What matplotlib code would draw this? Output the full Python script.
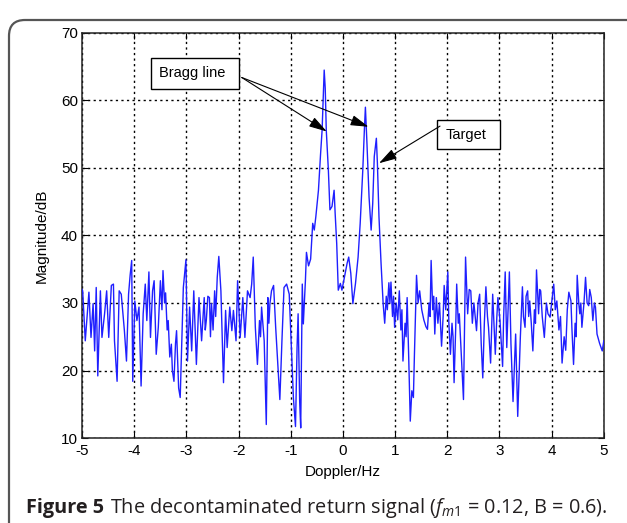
import matplotlib
matplotlib.use("Agg")
import matplotlib.pyplot as plt
from matplotlib.patches import FancyBboxPatch, Rectangle

plt.rcParams['font.family'] = ['Liberation Sans', 'DejaVu Sans']
plt.rcParams['axes.unicode_minus'] = False
plt.rcParams['mathtext.fontset'] = 'custom'
plt.rcParams['mathtext.rm'] = 'Open Sans'
plt.rcParams['mathtext.it'] = 'Open Sans:italic'

# spectrum (turning points of the trace)
doppler_hz = [
    -5.00, -4.99, -4.94, -4.87, -4.83, -4.79, -4.76, -4.73, -4.70, -4.65,
    -4.62, -4.57, -4.53, -4.49, -4.44, -4.40, -4.38, -4.33, -4.29, -4.25,
    -4.19, -4.15, -4.11, -4.08, -4.05, -4.03, -3.99, -3.95, -3.91, -3.87,
    -3.83, -3.79, -3.76, -3.72, -3.69, -3.65, -3.62, -3.58, -3.54, -3.50,
    -3.47, -3.45, -3.42, -3.40, -3.37, -3.35, -3.32, -3.29, -3.27, -3.24,
    -3.21, -3.19, -3.15, -3.12, -3.06, -3.01,
    -2.98, -2.94, -2.90, -2.86, -2.81, -2.76, -2.71, -2.66, -2.64, -2.62,
    -2.59, -2.56, -2.54, -2.52, -2.49, -2.46, -2.44, -2.41, -2.38, -2.34,
    -2.29, -2.25, -2.22, -2.17, -2.13,
    -2.10, -2.05, -2.02, -1.97, -1.92, -1.88, -1.83, -1.78, -1.75, -1.72,
    -1.68, -1.64, -1.60, -1.58, -1.56, -1.51, -1.47, -1.44, -1.42, -1.40,
    -1.37, -1.33,
    -1.29, -1.26, -1.21, -1.17, -1.13, -1.08, -1.03, -0.99, -0.95, -0.91,
    -0.88, -0.86, -0.83, -0.81, -0.78, -0.76, -0.72,
    -0.70, -0.66, -0.62, -0.58, -0.55, -0.52, -0.47, -0.43, -0.40, -0.37,
    -0.36, -0.34, -0.32, -0.28, -0.25, -0.21, -0.17, -0.15, -0.12, -0.09,
    -0.05, -0.02, 0.03, 0.08, 0.11, 0.15, 0.19, 0.24, 0.29, 0.33,
    0.38, 0.41, 0.43, 0.46, 0.50, 0.54, 0.57, 0.60, 0.64, 0.66,
    0.69, 0.73, 0.77, 0.80, 0.83, 0.85, 0.88, 0.90, 0.92, 0.95,
    0.97, 0.99, 1.02, 1.05, 1.08, 1.11, 1.13, 1.15, 1.19, 1.21,
    1.23, 1.26, 1.29, 1.32, 1.35, 1.37, 1.41, 1.44, 1.47, 1.51,
    1.55, 1.59, 1.62, 1.65, 1.67, 1.69, 1.72, 1.74, 1.76, 1.79,
    1.82, 1.85, 1.89, 1.92, 1.94, 1.97, 2.01, 2.03, 2.06, 2.09,
    2.11, 2.13, 2.16, 2.18, 2.21, 2.23, 2.27, 2.31, 2.35, 2.39,
    2.42, 2.45, 2.48, 2.51, 2.56, 2.59, 2.62, 2.65, 2.68, 2.71,
    2.74, 2.77, 2.79, 2.83, 2.87, 2.90, 2.92, 2.95, 2.97, 3.01,
    3.06, 3.08, 3.11, 3.14, 3.17, 3.19, 3.22, 3.26, 3.31, 3.35,
    3.40, 3.44, 3.46, 3.49, 3.51, 3.54, 3.56, 3.58, 3.61, 3.64,
    3.67, 3.69, 3.71, 3.75, 3.77, 3.79, 3.82, 3.86, 3.90, 3.93,
    3.97, 4.00, 4.04, 4.07, 4.10, 4.14, 4.17, 4.20, 4.24, 4.27,
    4.30, 4.33, 4.37, 4.39, 4.42, 4.45, 4.47, 4.49, 4.52, 4.54,
    4.56, 4.58, 4.62, 4.65, 4.68, 4.71, 4.73, 4.76, 4.79, 4.82,
    4.84, 4.87, 4.92, 4.97, 5.00,
]
magnitude_db = [
    32.0, 31.8, 24.4, 31.6, 24.9, 29.9, 22.9, 32.3, 19.2, 31.8,
    24.9, 28.4, 31.8, 24.9, 32.6, 32.8, 24.4, 18.4, 31.8, 31.3,
    25.9, 21.4, 31.3, 34.1, 36.3, 18.4, 30.3, 27.4, 29.4, 17.7,
    28.4, 32.8, 27.4, 34.6, 24.9, 31.8, 33.3, 22.4, 26.4, 33.3,
    29.0, 34.8, 30.0, 31.5, 26.0, 27.4, 22.0, 23.9, 20.0, 18.4,
    24.0, 25.9, 17.4, 16.0, 32.3, 36.4,
    21.4, 29.4, 22.9, 31.8, 20.9, 30.8, 24.4, 30.8, 26.0, 27.4,
    31.0, 30.8, 25.0, 29.9, 26.0, 31.8, 28.0, 33.8, 36.9, 31.8,
    18.2, 28.9, 23.4, 29.4, 25.9,
    28.9, 24.4, 33.3, 24.9, 30.8, 24.9, 31.8, 30.8, 32.8, 36.8,
    26.4, 20.9, 27.4, 25.0, 29.4, 24.4, 12.0, 30.8, 27.0, 29.9,
    31.8, 32.6,
    26.4, 22.4, 15.7, 24.4, 32.3, 32.8, 31.3, 23.4, 15.9, 11.7,
    23.4, 28.4, 15.4, 11.5, 32.8, 26.9, 33.3,
    37.5, 35.5, 36.5, 41.8, 40.8, 42.8, 46.7, 52.0, 55.6, 62.0,
    64.5, 61.8, 55.6, 49.7, 43.8, 44.3, 46.7, 43.3, 38.8, 31.9,
    32.9, 31.9, 33.9, 35.9, 36.8, 34.4, 29.9, 32.9, 36.8, 41.8,
    49.7, 55.6, 59.0, 53.6, 45.7, 40.8, 44.7, 51.7, 54.4, 50.7,
    42.8, 35.9, 29.9, 27.0, 31.0, 29.0, 33.0, 30.0, 33.1, 28.0,
    31.0, 26.4, 30.0, 27.5, 31.8, 26.0, 29.0, 21.4, 27.0, 25.0,
    30.8, 22.0, 12.5, 17.0, 16.0, 22.4, 34.1, 30.0, 31.8, 29.0,
    27.5, 26.5, 26.1, 30.0, 28.0, 36.3, 29.0, 31.0, 25.4, 30.8,
    27.0, 30.0, 23.6, 28.0, 32.6, 29.0, 34.6, 27.0, 22.4, 27.0,
    25.0, 18.2, 26.0, 32.8, 27.0, 28.4, 22.0, 15.7, 36.8, 28.4,
    32.0, 31.8, 27.0, 30.0, 25.9, 30.0, 31.3, 24.0, 18.9, 27.0,
    32.4, 28.0, 26.4, 21.1, 31.3, 26.0, 22.4, 28.0, 30.8, 27.4,
    20.6, 28.0, 34.6, 23.4, 30.0, 34.6, 24.0, 15.4, 25.4, 13.2,
    24.9, 32.4, 28.0, 26.4, 31.0, 31.8, 28.0, 30.3, 27.0, 22.9,
    29.0, 27.0, 34.9, 28.4, 32.0, 31.8, 28.0, 24.9, 30.0, 28.4,
    27.9, 30.0, 32.8, 29.0, 30.3, 26.0, 28.0, 21.1, 25.0, 23.0,
    29.0, 31.6, 30.3, 26.0, 20.9, 27.0, 25.0, 34.1, 30.0, 28.4,
    30.0, 26.4, 30.0, 33.8, 30.0, 29.6, 32.0, 30.8, 27.4, 30.0,
    29.4, 25.4, 24.0, 22.9, 24.4,
]

x_ticks = [-5, -4, -3, -2, -1, 0, 1, 2, 3, 4, 5]
y_ticks = [10, 20, 30, 40, 50, 60, 70]

fig = plt.figure(figsize=(6.27, 5.23), dpi=100)

# rounded frame running off the right and bottom edges
frame = FancyBboxPatch((0.09, -0.6), 7.0, 5.63, boxstyle="round,pad=0,rounding_size=0.16",
                       transform=fig.dpi_scale_trans, facecolor='none',
                       edgecolor='#555555', linewidth=1.6, zorder=0)
fig.patches.append(frame)

ax = fig.add_axes([0.131, 0.1625, 0.832, 0.7745])
ax.plot(doppler_hz, magnitude_db, color='#1f1fff', linewidth=1.0, zorder=3)
ax.set_xlim(-5, 5)
ax.set_ylim(10, 70)
ax.set_xticks(x_ticks)
ax.set_yticks(y_ticks)
ax.grid(True, color='black', linestyle=(0, (1.6, 2.4)), linewidth=1.0)
ax.tick_params(direction='in', top=True, right=True, length=4, labelsize=11, pad=4)
ax.tick_params(axis='y', pad=3)
for s in ax.spines.values():
    s.set_color('#222222')
    s.set_linewidth(1.1)

fig.text(0.5 * (0.131 + 0.963), 1 - 472 / 523, 'Doppler/Hz', fontsize=11,
         ha='center', va='center')
fig.text(42 / 627, 1 - 236 / 523, 'Magnitude/dB', fontsize=11,
         ha='center', va='center', rotation=90)

# annotation boxes and arrows
ax.add_patch(Rectangle((-3.68, 61.7), 1.69, 4.6, facecolor='white',
                       edgecolor='black', linewidth=1.0, zorder=5))
ax.text(-3.53, 64.0, 'Bragg line', fontsize=10.5, va='center', zorder=6)
ax.add_patch(Rectangle((1.80, 52.8), 1.21, 4.3, facecolor='white',
                       edgecolor='black', linewidth=1.0, zorder=5))
ax.text(1.97, 54.95, 'Target', fontsize=10.5, va='center', zorder=6)

arrow = dict(arrowstyle='-|>,head_length=1.1,head_width=0.32', color='black',
             linewidth=0.8, shrinkA=0, shrinkB=0)
ax.annotate('', xy=(-0.31, 55.4), xytext=(-1.94, 63.4), arrowprops=arrow, zorder=6)
ax.annotate('', xy=(0.49, 56.1), xytext=(-1.94, 63.4), arrowprops=arrow, zorder=6)
ax.annotate('', xy=(0.69, 50.7), xytext=(1.86, 56.2), arrowprops=arrow, zorder=6)

# caption: bold lead-in, then the rest
fig.canvas.draw()
renderer = fig.canvas.get_renderer()
cap_y = 1 - 513 / 523
t1 = fig.text(26 / 627, cap_y, 'Figure 5', fontsize=14.3, weight='bold',
              family='Open Sans', va='baseline', color='#231f20')
bb = t1.get_window_extent(renderer)
fig.text((bb.x1 + 6) / fig.bbox.width, cap_y,
         'The decontaminated return signal ($f_{m1}$ = 0.12, B = 0.6).',
         fontsize=14.3, family='Open Sans', va='baseline', color='#231f20')

fig.savefig('out.png', dpi=100)
